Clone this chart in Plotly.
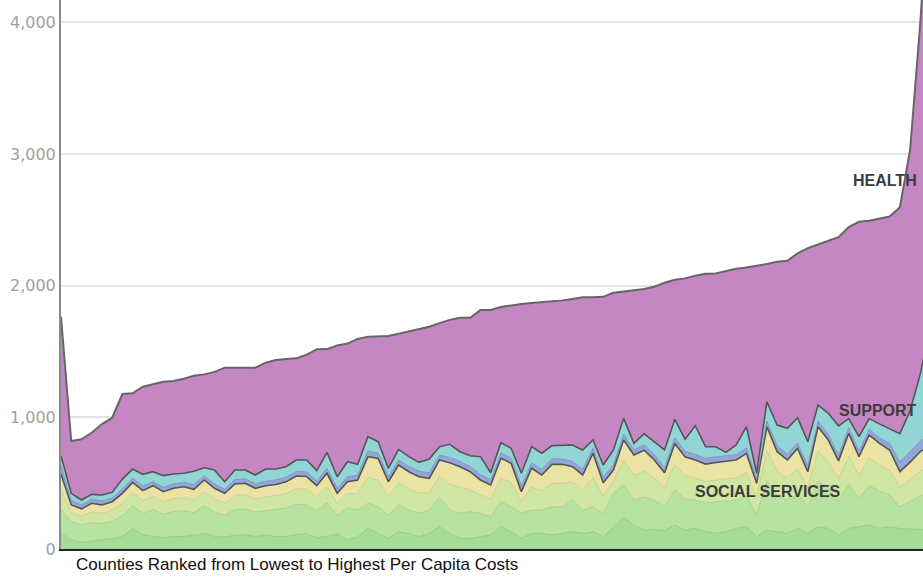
import plotly.graph_objects as go

# County index (ranked lowest -> highest per-capita cost)
counties = list(range(86))

# Cumulative tops of each stacked band (per-capita $)
dark_green_top = [120, 70, 50, 62, 70, 80, 95, 155, 110, 95, 85, 95, 95, 105, 118, 95, 90, 105, 108, 95,
                  105, 95, 95, 110, 118, 85, 95, 115, 70, 93,
                  157, 119, 81, 131, 119, 93, 119, 169, 119, 81, 81, 93, 106, 169, 131, 81, 119, 119, 106, 119,
                  131, 119, 131, 93, 169, 240, 182,
                  144, 150, 140, 182, 144, 156, 131, 119, 131, 156, 169, 94, 144, 131, 119, 156, 119, 169, 156, 106,
                  156, 169, 182, 156, 169, 156, 150, 150, 144]
green_top = [300, 207, 182, 200, 195, 210, 250, 330, 270, 300, 265, 285, 290, 275, 330, 280, 255, 300, 305, 280,
             290, 300, 310, 340, 335, 290, 350, 255, 310,
             296, 347, 321, 258, 334, 296, 271, 296, 397, 296, 271, 283, 271, 245, 359, 321, 271, 296, 296, 321,
             321, 372, 296, 321, 271, 423, 486, 372, 397,
             370, 320, 450, 380, 370, 350, 360, 365, 370, 400, 260, 520, 405, 370, 420, 320, 520, 460, 365, 490,
             385, 480, 440, 410, 320, 360, 405, 430]
yellow_green_top = [447, 277, 250, 281, 271, 292, 345, 427, 365, 400, 358, 382, 390, 373, 437, 380, 347, 407, 412, 380,
                    395, 405, 420, 458, 453, 395, 474, 347, 420, 421,
                    542, 523, 397, 501, 456, 424, 429, 550, 493, 466, 450, 410, 378, 540, 503, 361, 470, 442, 498, 498,
                    511, 442, 544, 399, 520, 674, 560, 591, 538, 462,
                    644, 557, 538, 512, 523, 532, 538, 579, 391, 745, 589, 538, 609, 467, 745, 662, 532, 703, 559, 692,
                    639, 598, 467, 525, 589, 628]
social_services_top = [567, 335, 305, 347, 334, 359, 423, 506, 443, 481, 435, 461, 473, 453, 524, 461, 423, 494, 499, 461,
                       480, 490, 510, 554, 550, 481, 575, 423, 511,
                       524, 701, 688, 511, 638, 587, 549, 537, 676, 655, 625, 587, 524, 486, 688, 651, 435, 613, 562, 643,
                       643, 625, 562, 727, 503, 600, 828, 714, 750,
                       676, 579, 802, 701, 676, 645, 657, 669, 676, 726, 499, 929, 739, 676, 764, 587, 929, 828, 669, 878,
                       701, 866, 802, 752, 587, 660, 740, 790]
blue_top = [630, 372, 335, 378, 365, 388, 455, 540, 478, 512,
            468, 495, 505, 488, 556, 495, 455, 527, 532, 495,
            515, 525, 545, 590, 586, 515, 612, 460, 548, 560,
            745, 728, 548, 676, 628, 590, 580, 712, 695, 665,
            627, 566, 526, 730, 690, 478, 655, 605, 685, 683,
            665, 605, 768, 545, 642, 870, 752, 790, 716, 618,
            845, 742, 718, 688, 700, 708, 716, 768, 530, 972,
            782, 720, 806, 632, 972, 872, 712, 920, 745, 908,
            845, 800, 660, 740, 820, 880]
support_top = [708, 423, 372, 415, 410, 430, 531, 607, 567, 587,
               557, 570, 575, 590, 617, 600, 511, 600, 600, 562,
               607, 607, 625, 676, 676, 595, 734, 549, 663, 643,
               853, 815, 613, 757, 701, 658, 683, 777, 795, 739,
               708, 701, 579, 807, 765, 575, 777, 727, 785, 790,
               790, 752, 828, 638, 752, 992, 802, 875, 810, 752,
               985, 833, 936, 777, 777, 734, 790, 929, 575, 1118,
               941, 916, 995, 815, 1093, 1030, 935, 990, 853, 990,
               950, 910, 875, 1050, 1330, 1700]
health_top = [1764, 820, 833, 883, 949, 995, 1177, 1182, 1232, 1250,
              1270, 1276, 1293, 1316, 1326, 1345, 1377, 1377, 1377, 1377,
              1415, 1435, 1442, 1448, 1475, 1516, 1518, 1545, 1560, 1595,
              1612, 1616, 1617, 1635, 1652, 1668, 1688, 1715, 1740, 1756,
              1756, 1815, 1815, 1838, 1852, 1861, 1868, 1873, 1878, 1888,
              1898, 1911, 1912, 1915, 1946, 1955, 1965, 1975, 1992, 2022,
              2045, 2055, 2075, 2090, 2093, 2110, 2128, 2138, 2150, 2165,
              2182, 2188, 2245, 2285, 2312, 2338, 2368, 2445, 2485, 2492,
              2508, 2525, 2595, 3030, 4000, 5200]

y_tick_vals = [0, 1000, 2000, 3000, 4000]
y_tick_text = ["0", "1,000", "2,000", "3,000", "4,000"]
x_title = "Counties Ranked from Lowest to Highest Per Capita Costs"
band_labels = [("HEALTH", 80.5, 2800), ("SUPPORT", 79.9, 1055), ("SOCIAL SERVICES", 69.1, 440)]

bands = [
    (dark_green_top, "#a4dc98", "rgba(140,190,125,0.7)", 1),
    (green_top, "#b7e3a0", "rgba(160,195,135,0.7)", 1),
    (yellow_green_top, "#cfe7a3", "rgba(190,200,140,0.7)", 1),
    (social_services_top, "#ebe3a3", "#555555", 1.6),
    (blue_top, "#93a6d9", "rgba(120,135,190,0.8)", 1),
    (support_top, "#91d6d4", "#555555", 1.6),
    (health_top, "#c487c3", "#666666", 2),
]

fig = go.Figure()
for i, (vals, fillc, linec, lw) in enumerate(bands):
    fig.add_trace(go.Scatter(
        x=counties, y=vals, mode="lines",
        line=dict(color=linec, width=lw, shape="linear"),
        fill="tozeroy" if i == 0 else "tonexty",
        fillcolor=fillc, hoverinfo="skip", showlegend=False,
    ))

for text, xv, yv in band_labels:
    fig.add_annotation(x=xv, y=yv, text="<b>" + text + "</b>", showarrow=False,
                       font=dict(family="Liberation Sans, Arial", size=16, color="#3c3c3c"),
                       xanchor="center", yanchor="middle")

fig.add_annotation(x=0, y=-0.008, xref="paper", yref="paper", text=x_title,
                   showarrow=False, xanchor="left", yanchor="top", xshift=13,
                   font=dict(family="Liberation Sans, Arial", size=17, color="#111111"))

fig.update_layout(
    width=923, height=580,
    margin=dict(l=61, r=0, t=0, b=31),
    paper_bgcolor="white", plot_bgcolor="white",
    xaxis=dict(range=[0, 84.26], showgrid=False, zeroline=False, showticklabels=False,
               showline=True, linecolor="#222222", linewidth=2, ticks=""),
    yaxis=dict(range=[0, 4169], tickvals=y_tick_vals, ticktext=y_tick_text,
               showgrid=True, gridcolor="#e4e4e4", gridwidth=1.5, zeroline=False,
               showline=True, linecolor="#8a8a8a", linewidth=2, ticks="",
               tickfont=dict(family="DejaVu Sans, Verdana", size=16, color="#a0a0a0")),
)

fig.write_html("out.html", config={"displayModeBar": False},
               post_script="document.body.style.margin='0';")
